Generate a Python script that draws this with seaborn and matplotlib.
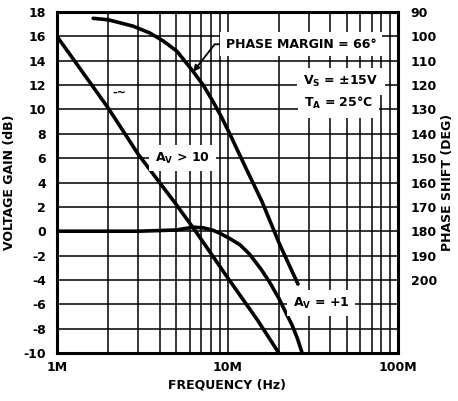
import numpy as np
import pandas as pd
import matplotlib
matplotlib.use("Agg")
import matplotlib.pyplot as plt
from matplotlib.ticker import LogLocator, FixedLocator, NullFormatter
import seaborn as sns

# frequency in MHz, gain in dB, phase in degrees
freq_av10 = [1, 2, 3, 5, 6.5, 10, 15, 20]
gain_av10 = [16, 10.1, 6.3, 2.2, 0, -3.8, -7.3, -10]

freq_av1 = [1, 3, 5, 6.3, 7.2, 8.2, 9, 10.3, 11.8, 13.4, 15.7, 17.5, 20, 22, 23.9, 25.7, 27.4]
gain_av1 = [0, 0, 0.1, 0.33, 0.28, 0.08, -0.16, -0.6, -1.1, -1.85, -3.1, -4.1, -5.5, -6.7, -7.7, -8.8, -10]

freq_phase = [1.63, 2.0, 2.79, 3.5, 4.2, 5.05, 6.27, 7.2, 8.2, 9.2, 10.34, 12.8, 15.9, 20.2, 25.9]
phase_deg = [92.6, 93.2, 95.8, 98.6, 101.9, 106.1, 114.3, 120.0, 126.6, 133.0, 140.2, 154.0, 167.7, 185.3, 201.7]

gain_ticks = list(range(-10, 19, 2))
phase_ticks = list(range(90, 201, 10))
freq_ticks = [1, 10, 100]
freq_labels = ["1M", "10M", "100M"]

sns.set_style("white")
plt.rcParams["font.family"] = ["DejaVu Sans"]
plt.rcParams["font.weight"] = "bold"
plt.rcParams["mathtext.fontset"] = "dejavusans"
plt.rcParams["axes.unicode_minus"] = False

fig = plt.figure(figsize=(4.58, 4.01), dpi=100)
ax = fig.add_axes([57 / 458, 48 / 401, 341 / 458, 341 / 401])

df10 = pd.DataFrame({"f": freq_av10, "g": gain_av10})
df1 = pd.DataFrame({"f": freq_av1, "g": gain_av1})
sns.lineplot(data=df10, x="f", y="g", ax=ax, color="black", lw=2.6, sort=False)
sns.lineplot(data=df1, x="f", y="g", ax=ax, color="black", lw=2.6, sort=False)

ax.set_xscale("log")
ax.set_xlim(1, 100)
ax.set_ylim(-10, 18)
ax.xaxis.set_major_locator(FixedLocator(freq_ticks))
ax.set_xticklabels(freq_labels)
ax.xaxis.set_minor_locator(LogLocator(base=10, subs=np.arange(2, 10)))
ax.xaxis.set_minor_formatter(NullFormatter())
ax.set_yticks(gain_ticks)
ax.grid(which="both", color="black", lw=1.1)
ax.tick_params(which="both", length=0, labelsize=9, labelcolor="black")
ax.tick_params(axis="x", pad=6)
ax.tick_params(axis="y", pad=8)
for s in ax.spines.values():
    s.set_linewidth(2.2)
    s.set_color("black")
ax.set_xlabel("FREQUENCY (Hz)", fontsize=9, fontweight="bold", labelpad=3, color="black")
ax.set_ylabel("VOLTAGE GAIN (dB)", fontsize=9, fontweight="bold", labelpad=5, color="black")

ax2 = ax.twinx()
dfp = pd.DataFrame({"f": freq_phase, "p": phase_deg})
sns.lineplot(data=dfp, x="f", y="p", ax=ax2, color="black", lw=2.6, sort=False)
ax2.set_ylim(230, 90)
ax2.set_yticks(phase_ticks)
ax2.tick_params(length=0, labelsize=9, pad=9, labelcolor="black")
ax2.set_ylabel("PHASE SHIFT (DEG)", fontsize=9, fontweight="bold", labelpad=3, color="black")
ax2.grid(False)
for s in ax2.spines.values():
    s.set_visible(False)

box = dict(boxstyle="square,pad=0.45", fc="white", ec="none")
ax.annotate("PHASE MARGIN = 66°", xy=(6.3, 13.1), xytext=(9.8, 15.35),
            ha="left", va="center", fontsize=9, fontweight="bold", bbox=box, color="black",
            arrowprops=dict(arrowstyle="-|>", connectionstyle="angle,angleA=0,angleB=52",
                            color="black", lw=1.3, mutation_scale=9, shrinkA=0, shrinkB=0))
ax.text(27.8, 12.3, r"V$_\mathbf{S}$ = ±15V", ha="left", va="center", fontsize=9, color="black",
        fontweight="bold", bbox=dict(boxstyle="square,pad=0.5", fc="white", ec="none"))
ax.text(28.2, 10.5, r"T$_\mathbf{A}$ = 25°C", ha="left", va="center", fontsize=9, color="black",
        fontweight="bold", bbox=dict(boxstyle="square,pad=0.5", fc="white", ec="none"))
ax.text(3.76, 6.0, r"A$_\mathbf{V}$ > 10", ha="left", va="center", fontsize=9, color="black",
        fontweight="bold", bbox=box)
ax.text(24.2, -5.9, r"A$_\mathbf{V}$ = +1", ha="left", va="center", fontsize=9, color="black",
        fontweight="bold", bbox=box)
ax.text(2.1, 11.4, "-~", ha="left", va="center", fontsize=8, fontweight="bold", color="black")

fig.savefig("out.png", dpi=100)
